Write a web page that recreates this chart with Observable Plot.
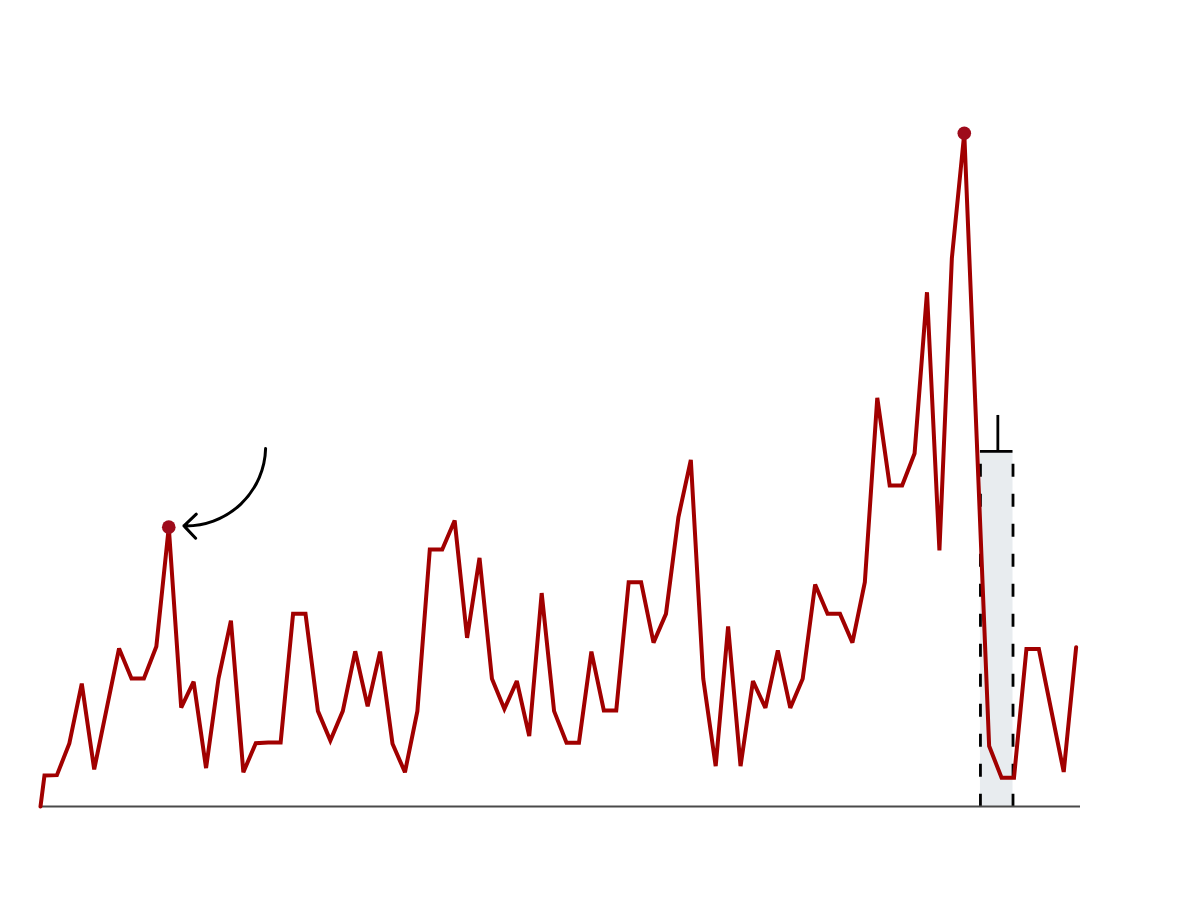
<!DOCTYPE html>
<html>
<head>
<meta charset="utf-8">
<script src="https://cdn.jsdelivr.net/npm/d3@7"></script>
<script src="https://cdn.jsdelivr.net/npm/@observablehq/plot@0.6"></script>
<style>
  html, body { margin: 0; padding: 0; background: #ffffff; }
  #chart { width: 1200px; height: 916px; }
</style>
</head>
<body>
<div id="chart"></div>
<script>
// Series: position index and value
const xs = [-0.32,
  0, 1, 2, 3, 4, 5, 6, 7, 8, 9,
  10, 11, 12, 13, 14, 15, 16, 17, 18, 19,
  20, 21, 22, 23, 24, 25, 26, 27, 28, 29,
  30, 31, 32, 33, 34, 35, 36, 37, 38, 39,
  40, 41, 42, 43, 44, 45, 46, 47, 48, 49,
  50, 51, 52, 53, 54, 55, 56, 57, 58, 59,
  60, 61, 62, 63, 64, 65, 66, 67, 68, 69,
  70, 71, 72, 73, 74, 75, 76, 77, 78, 79,
  80, 81, 82, 83];
const values = [0,
  0.97, 0.98, 1.97, 3.84, 1.16, 3.05, 4.94, 4.0, 4.0, 5.0,
  8.73, 3.09, 3.9, 1.2, 4.0, 5.81, 1.07, 1.98, 2.0, 2.0,
  6.02, 6.02, 2.98, 2.06, 2.98, 4.85, 3.13, 4.84, 1.96, 1.07,
  2.98, 8.03, 8.03, 8.94, 5.27, 7.77, 3.99, 3.05, 3.92, 2.2,
  6.67, 2.98, 1.99, 1.99, 4.84, 3.0, 3.0, 7.01, 7.01, 5.12,
  6.02, 9.04, 10.83, 3.99, 1.26, 5.63, 1.26, 3.92, 3.08, 4.88,
  3.08, 3.99, 6.94, 6.02, 6.02, 5.12, 7.01, 12.77, 10.03, 10.03,
  11.03, 16.07, 8.0, 17.13, 21.04, 11.5, 1.89, 0.9, 0.9, 4.92,
  4.92, 3.0, 1.08, 4.98];

// Highlighted peaks (indices into the series)
const highlightX = [10, 74];

// Shaded band annotation
const bandX1 = [75.3];
const bandX2 = [77.92];
const bandTop = [11.1];
const bandTickX = [76.7];
const bandTickTop = [12.22];

// Curved arrow annotation
const arrowX1 = [17.79];
const arrowY1 = [11.19];
const arrowX2 = [11.22];
const arrowY2 = [8.77];

const series = xs.map((x, i) => ({x, y: values[i]}));
const peaks = series.filter(d => highlightX.includes(d.x));
const band = bandX1.map((x1, i) => ({x1, x2: bandX2[i], top: bandTop[i], tx: bandTickX[i], ttop: bandTickTop[i]}));
const arrows = arrowX1.map((x1, i) => ({x1, y1: arrowY1[i], x2: arrowX2[i], y2: arrowY2[i]}));

const chart = Plot.plot({
  width: 1200,
  height: 916,
  marginLeft: 40,
  marginRight: 120,
  marginTop: 6,
  marginBottom: 110,
  x: {domain: [-0.32, 83.35], axis: null},
  y: {domain: [0, 25], axis: null},
  marks: [
    Plot.rectY(band, {x1: "x1", x2: "x2", y1: 0, y2: "top", fill: "#e8ecef"}),
    Plot.ruleX(band, {x: "x1", y1: "top", y2: 0, stroke: "#000", strokeWidth: 2.8, strokeDasharray: "13,17", strokeDashoffset: 17}),
    Plot.ruleX(band, {x: "x2", y1: "top", y2: 0, stroke: "#000", strokeWidth: 2.8, strokeDasharray: "13,17", strokeDashoffset: 17}),
    Plot.ruleY(band, {y: "top", x1: "x1", x2: "x2", stroke: "#000", strokeWidth: 2.8}),
    Plot.ruleX(band, {x: "tx", y1: "top", y2: "ttop", stroke: "#000", strokeWidth: 2.8}),
    Plot.ruleY([0], {stroke: "#4a4a4a", strokeWidth: 2}),
    Plot.line(series, {x: "x", y: "y", stroke: "#a10000", strokeWidth: 4, strokeLinejoin: "miter", strokeMiterlimit: 3}),
    Plot.dot(peaks, {x: "x", y: "y", r: 6.8, fill: "#9e0b1b", stroke: "none"}),
    Plot.arrow(arrows, {x1: "x1", y1: "y1", x2: "x2", y2: "y2", bend: 45, stroke: "#000", strokeWidth: 3, headAngle: 90, headLength: 8.5})
  ]
});
document.getElementById("chart").append(chart);
</script>
</body>
</html>
